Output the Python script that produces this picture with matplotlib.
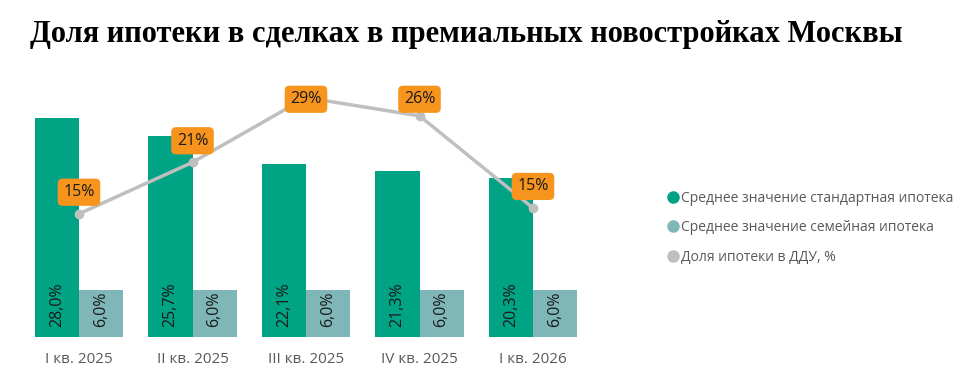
import matplotlib
matplotlib.use("Agg")
import matplotlib.pyplot as plt
from matplotlib.lines import Line2D
import numpy as np

# data
quarters = ["I кв. 2025", "II кв. 2025", "III кв. 2025", "IV кв. 2025", "I кв. 2026"]
standard_rate = [28.0, 25.7, 22.1, 21.3, 20.3]
family_rate = [6.0, 6.0, 6.0, 6.0, 6.0]
mortgage_share = [14.6, 20.8, 28.6, 26.4, 15.3]

c_std = "#00A384"
c_fam = "#7FB7B8"
c_line = "#BFBFBF"
c_orange = "#F7941D"
c_text = "#595959"

plt.rcParams["font.family"] = ["Open Sans", "DejaVu Sans"]

fig = plt.figure(figsize=(9.76, 3.88), dpi=100)
fig.text(30 / 976, 1 - 42 / 388, "Доля ипотеки в сделках в премиальных новостройках Москвы",
         family="Liberation Serif", weight="bold", fontsize=22, color="black",
         ha="left", va="baseline")

ax = fig.add_axes([22.25 / 976, 51 / 388, 567.5 / 976, 257 / 388])
x = np.arange(len(quarters))
w = 0.388
ax.bar(x - w / 2, standard_rate, w, color=c_std)
ax.bar(x + w / 2, family_rate, w, color=c_fam)
ax.set_xlim(-0.5, len(quarters) - 0.5)
ax.set_ylim(0, 32.9)

for xi, v in zip(x - w / 2, standard_rate):
    ax.text(xi, 1.3, f"{v:.1f}%".replace(".", ","), rotation=90, ha="center", va="bottom",
            fontsize=11.5, color="#1a1a1a")
for xi, v in zip(x + w / 2, family_rate):
    ax.text(xi, 1.3, f"{v:.1f}%".replace(".", ","), rotation=90, ha="center", va="bottom",
            fontsize=11.5, color="#1a1a1a")

ax.set_xticks(x)
ax.set_xticklabels(quarters, fontsize=11, color=c_text)
ax.tick_params(axis="x", length=0, pad=11)
ax.set_yticks([])
for s in ax.spines.values():
    s.set_visible(False)

# share line on its own scale
ax2 = ax.twinx()
ax2.set_ylim(-0.24, 30.72)
ax2.plot(x, mortgage_share, color=c_line, lw=2.5, marker="o", ms=6)
ax2.set_yticks([])
for s in ax2.spines.values():
    s.set_visible(False)
for xi, v in zip(x, mortgage_share):
    ax2.text(xi, min(v + 2.6, 28.4), f"{v:.0f}%", ha="center", va="center",
             fontsize=11.5, color="#1a1a1a",
             bbox=dict(boxstyle="round,pad=0.35,rounding_size=0.3", fc=c_orange, ec="none"))

# legend
handles = [Line2D([], [], ls="none", marker="o", ms=8, color=c_std),
           Line2D([], [], ls="none", marker="o", ms=8, color=c_fam),
           Line2D([], [], ls="none", marker="o", ms=8, color=c_line)]
labels = ["Среднее значение стандартная ипотека", "Среднее значение семейная ипотека",
          "Доля ипотеки в ДДУ, %"]
fig.legend(handles, labels, loc="upper left", bbox_to_anchor=(660 / 976, 1 - 185 / 388),
           frameon=False, fontsize=10, labelcolor=c_text, handletextpad=0.1,
           handlelength=1.0, labelspacing=1.05, borderaxespad=0)

fig.savefig("out.png", dpi=100)
